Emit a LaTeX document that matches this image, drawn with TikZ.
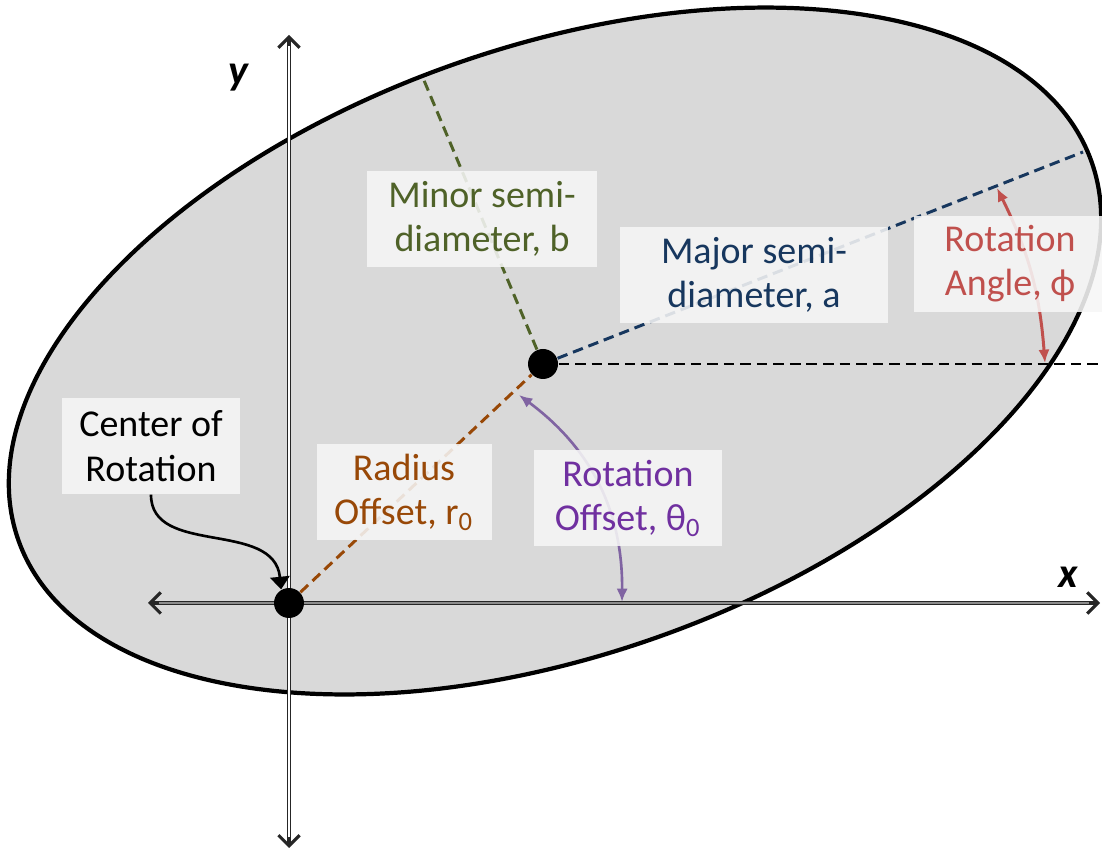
\documentclass[tikz,border=0pt]{standalone}
\usepackage{fontspec}
\setmainfont{Carlito}
\usetikzlibrary{arrows.meta}

\definecolor{shade}{HTML}{D9D9D9}
\definecolor{boxfill}{HTML}{F6F6F6}
\definecolor{minorgreen}{HTML}{4F6228}
\definecolor{majorblue}{HTML}{17375E}
\definecolor{anglered}{HTML}{C0504D}
\definecolor{radiusbrown}{HTML}{984807}
\definecolor{offsetpurple}{HTML}{7030A0}
\definecolor{arcpurple}{HTML}{8064A2}

\begin{document}
\begin{tikzpicture}[>={Latex[length=3.8pt,width=3.2pt]},
  axis/.style={line width=1.3pt, draw=black!85,
    {Straight Barb[length=3pt,width=6pt,line width=0.9pt]}-{Straight Barb[length=3pt,width=6pt,line width=0.9pt]}},
  axiscore/.style={line width=0.45pt, shorten <=3pt, shorten >=3pt},
  dot/.style={circle, fill=black, minimum size=0.30cm, inner sep=0pt},
  semi/.style={line width=0.85pt, dash pattern=on 3pt off 1.7pt},
  lbl/.style={fill=boxfill, fill opacity=0.88, text opacity=1, align=center,
    inner sep=0pt, minimum height=0.96cm, font=\fontsize{10.8}{12.6}\selectfont},
  axislbl/.style={font=\fontsize{12}{14}\selectfont\bfseries\itshape}]
  \useasboundingbox (0,0) rectangle (11.02,8.51);

  % Coordinates
  \coordinate (E) at (5.55,5.00);
  \coordinate (xleft) at (1.48,2.48);
  \coordinate (xright) at (11.00,2.48);
  \coordinate (ybot) at (2.89,0.03);
  \coordinate (ytop) at (2.89,8.16);
  \coordinate (minortip) at (4.23,7.73);
  \coordinate (majortip) at (10.83,6.99);
  \coordinate (horiztip) at (11.06,4.87);
  \coordinate (phibot) at (10.45,4.88);
  \coordinate (phitop) at (9.97,6.63);
  \coordinate (thetabot) at (6.22,2.49);
  \coordinate (thetatop) at (5.19,4.56);

  % Ellipse
  \draw[line width=1.2pt, fill=shade, rotate around={19.4:(E)}] (E) ellipse (5.69 and 3.04);

  % Axes
  \draw[axis] (xleft) -- (xright);
  \draw[axiscore, draw=black!45] (xleft) -- (xright);
  \draw[axis] (ybot) -- (ytop);
  \draw[axiscore, draw=white] (ybot) -- (ytop);
  \node[axislbl] (ylbl) at (2.38,7.73) {y};
  \node[axislbl] (xlbl) at (10.68,2.74) {x};

  % Centre points
  \node[dot] (O) at (2.89,2.48) {};
  \node[dot] (C) at (5.43,4.87) {};

  % Semi-diameters and offsets
  \draw[semi, minorgreen] (C) -- (minortip);
  \draw[semi, majorblue] (C) -- (majortip);
  \draw[semi, black] (C) -- (horiztip);
  \draw[semi, radiusbrown] (O) -- (C);

  % Angle arrows
  \draw[<->, anglered, line width=0.85pt] (phibot) to[bend right=11] (phitop);
  \draw[<->, arcpurple, line width=0.75pt] (thetabot) to[bend right=27] (thetatop);

  % Labels
  \node[lbl, text=minorgreen, minimum width=2.30cm] (minorlbl) at (4.82,6.32) {Minor semi-\\diameter, b};
  \node[lbl, text=majorblue, minimum width=2.68cm] (majorlbl) at (7.54,5.76) {Major semi-\\diameter, a};
  \node[lbl, text=anglered, minimum width=1.92cm] (anglelbl) at (10.10,5.87) {Rotation\\Angle, ϕ};
  \node[lbl, minimum width=1.78cm] (corlbl) at (1.51,4.05) {Center of\\Rotation};
  \node[lbl, text=radiusbrown, minimum width=1.75cm] (radiuslbl) at (4.04,3.59) {Radius\\Offset, r\textsubscript{0}};
  \node[lbl, text=offsetpurple, minimum width=1.88cm] (offsetlbl) at (6.28,3.53) {Rotation\\Offset, θ\textsubscript{0}};

  % Pointer to the centre of rotation
  \draw[-{Triangle[length=3.6pt,width=5.5pt]}, line width=0.75pt]
    (corlbl.south) .. controls +(0,-0.62) and +(-0.07,0.7) .. (O.120);
\end{tikzpicture}
\end{document}
